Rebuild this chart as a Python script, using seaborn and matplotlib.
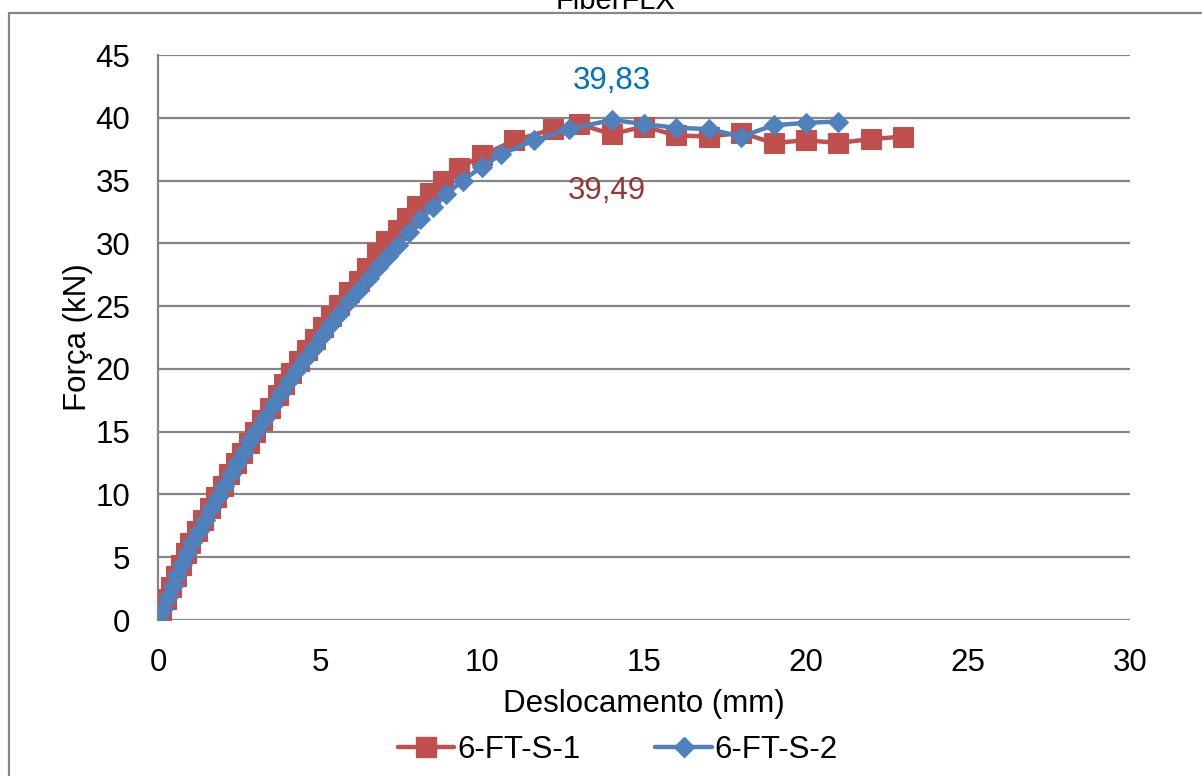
import matplotlib
matplotlib.use("Agg")
import matplotlib.pyplot as plt
import seaborn as sns
import pandas as pd
from matplotlib.lines import Line2D
from matplotlib.patches import Rectangle

# ---- data ----
s1_label = "6-FT-S-1"
s1_x = [0, 0.1, 0.25, 0.4, 0.55, 0.7, 0.85, 1.0, 1.2, 1.4, 1.6, 1.8, 2.0, 2.2, 2.4, 2.6,
        2.8, 3.0, 3.2, 3.45, 3.7, 3.9, 4.1, 4.35, 4.6, 4.85, 5.1, 5.35, 5.6, 5.9, 6.2,
        6.45, 6.75, 7.05, 7.4, 7.7, 8.0, 8.4, 8.8, 9.3, 10.0, 11.0, 12.2, 13, 14, 15,
        16, 17, 18, 19, 20, 21, 22, 23]
s1_y = [0, 0.8, 1.7, 2.6, 3.5, 4.4, 5.3, 6.1, 7.1, 8.0, 8.9, 9.8, 10.7, 11.6, 12.5, 13.3,
        14.1, 15.0, 15.9, 16.9, 17.9, 18.8, 19.7, 20.6, 21.5, 22.4, 23.3, 24.2, 25.1,
        26.1, 27.0, 28.0, 29.2, 30.2, 31.1, 32.0, 33.0, 34.0, 35.0, 36.0, 37.0, 38.2,
        39.1, 39.49, 38.7, 39.3, 38.6, 38.5, 38.8, 38.0, 38.2, 38.0, 38.3, 38.5]

s2_label = "6-FT-S-2"
s2_x = [0, 0.15, 0.3, 0.45, 0.6, 0.75, 0.9, 1.05, 1.25, 1.45, 1.65, 1.85, 2.05, 2.25,
        2.45, 2.65, 2.85, 3.05, 3.3, 3.55, 3.8, 4.05, 4.3, 4.55, 4.8, 5.05, 5.3, 5.6,
        5.9, 6.2, 6.5, 6.8, 7.1, 7.4, 7.75, 8.1, 8.5, 8.9, 9.4, 10.0, 10.6, 11.6, 12.7,
        14, 15, 16, 17, 18, 19, 20, 21]
s2_y = [0, 0.9, 1.8, 2.7, 3.6, 4.5, 5.3, 6.2, 7.1, 8.0, 8.9, 9.8, 10.7, 11.6, 12.5,
        13.4, 14.3, 15.1, 16.1, 17.1, 18.1, 19.0, 19.9, 20.8, 21.7, 22.6, 23.5, 24.4,
        25.4, 26.3, 27.2, 28.1, 29.0, 29.9, 30.9, 31.9, 32.9, 33.9, 35.0, 36.1, 37.1,
        38.2, 39.1, 39.83, 39.5, 39.2, 39.1, 38.5, 39.4, 39.6, 39.7]

title = "FiberFLX"
x_label = "Deslocamento (mm)"
y_label = "Força (kN)"
x_ticks = [0, 5, 10, 15, 20, 25, 30]
y_ticks = [0, 5, 10, 15, 20, 25, 30, 35, 40, 45]
ann_s2 = "39,83"
ann_s1 = "39,49"

# ---- style ----
sns.set_style("white")
plt.rcParams["font.family"] = ["Liberation Sans", "DejaVu Sans"]
plt.rcParams["text.color"] = "black"
plt.rcParams["xtick.color"] = "black"
plt.rcParams["ytick.color"] = "black"
plt.rcParams["axes.labelcolor"] = "black"
FS = 22.5
red = "#C0504D"
blue = "#4F81BD"
grid_c = "#868686"

fig = plt.figure(figsize=(12.02, 7.76), dpi=100)
W, H = 1202, 776
ax = fig.add_axes([158 / W, 1 - 620 / H, 972 / W, 565 / H])

df1 = pd.DataFrame({"x": s1_x, "y": s1_y})
df2 = pd.DataFrame({"x": s2_x, "y": s2_y})

sns.lineplot(data=df1, x="x", y="y", ax=ax, color=red, linewidth=3.2, marker="s",
             markersize=15, markeredgecolor=red, sort=False, estimator=None, zorder=3)
sns.lineplot(data=df2, x="x", y="y", ax=ax, color=blue, linewidth=3.2, marker="D",
             markersize=10, markeredgecolor=blue, sort=False, estimator=None, zorder=4)

ax.set_xlim(x_ticks[0], x_ticks[-1])
ax.set_ylim(y_ticks[0], y_ticks[-1])
ax.set_xticks(x_ticks)
ax.set_yticks(y_ticks)
ax.set_xticklabels([str(t) for t in x_ticks], fontsize=FS)
ax.set_yticklabels([str(t) for t in y_ticks], fontsize=FS)
ax.tick_params(axis="x", length=0, pad=20, colors="black")
ax.tick_params(axis="y", length=0, pad=20, colors="black")

for t in y_ticks:
    ax.axhline(t, color=grid_c, linewidth=1.6, zorder=1)
for side in ["top", "right", "bottom"]:
    ax.spines[side].set_visible(False)
ax.spines["left"].set_color(grid_c)
ax.spines["left"].set_linewidth(1.6)
ax.spines["left"].set_zorder(1)

ax.set_xlabel(x_label, fontsize=FS, labelpad=8, color="black")
ax.set_ylabel(y_label, fontsize=FS, labelpad=2, color="black")

# annotations
ax.annotate(ann_s2, xy=(14, 39.83), xytext=(0, 17), textcoords="offset points",
            ha="center", va="bottom", fontsize=FS, color="#0070C0")
ax.annotate(ann_s1, xy=(13.86, 34.2), xytext=(0, 0), textcoords="offset points",
            ha="center", va="center", fontsize=FS, color="#953735")

# legend
handles = [
    Line2D([0], [0], color=red, linewidth=3.2, marker="s", markersize=15, markeredgecolor=red),
    Line2D([0], [0], color=blue, linewidth=3.2, marker="D", markersize=10, markeredgecolor=blue),
]
fig.legend(handles, [s1_label, s2_label], loc="center", bbox_to_anchor=(618 / W, 1 - 750 / H),
           ncol=2, frameon=False, fontsize=FS, handlelength=1.8, handletextpad=0.1,
           columnspacing=2.4)

# outer frame and clipped title
fig.patches.append(Rectangle((9 / W, -0.1), 1.2, (H - 13) / H + 0.1, transform=fig.transFigure,
                             fill=False, edgecolor=grid_c, linewidth=1.6))
fig.text(615 / W, 1 - 9 / H, title, ha="center", va="baseline", fontsize=21, color="black")

fig.savefig("out.png", dpi=100)
